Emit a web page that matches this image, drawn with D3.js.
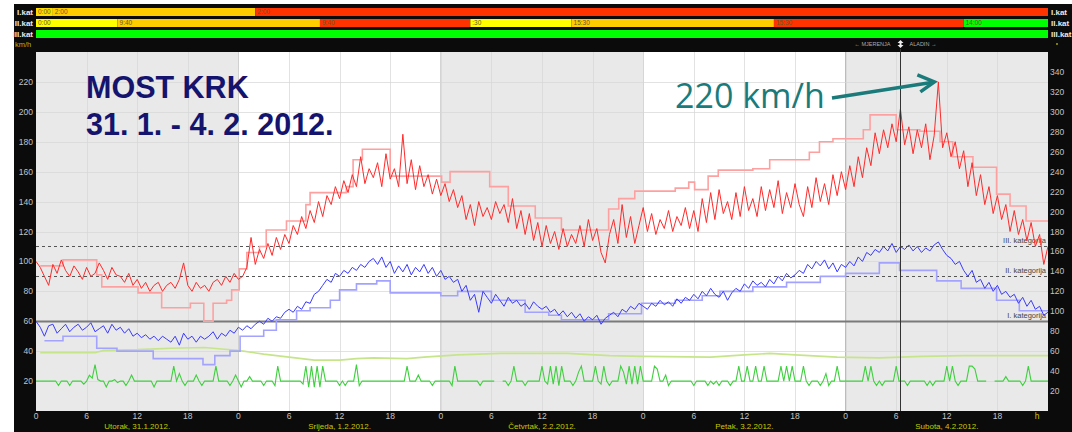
<!DOCTYPE html>
<html><head><meta charset="utf-8">
<script src="https://cdn.jsdelivr.net/npm/d3@7"></script>
<style>body{margin:0;background:#fff}svg{display:block}</style>
</head><body><svg id="c" width="1072" height="432"></svg>
<script>
// ---------- DATA ----------
const dayLabels = ["Utorak, 31.1.2012.","Srijeda, 1.2.2012.","Četvrtak, 2.2.2012.","Petak, 3.2.2012.","Subota, 4.2.2012."];
const dayStarts = [0,24,48,72,96];
const hourTickT = [0,6,12,18,24,30,36,42,48,54,60,66,72,78,84,90,96,102,108,114];
const hourTickLabels = ["0","6","12","18","0","6","12","18","0","6","12","18","0","6","12","18","0","6","12","18"];
const leftTicks = [20,40,60,80,100,120,140,160,180,200,220];
const rightTicks = [20,40,60,80,100,120,140,160,180,200,220,240,260,280,300,320,340];

// measured gusts (red), every 30 min from Tue 0:00
const gust = [
100,96,90,84,98,92,101,94,90,97,93,88,96,90,92,99,94,88,96,91,90,
86,92,84,88,82,86,80,84,86,80,84,86,82,88,99,84,80,86,82,84,
80,86,88,84,90,86,92,88,90,96,116,98,108,102,112,104,116,108,118,112,
124,118,130,122,134,126,140,130,144,138,150,142,154,146,158,150,170,152,162,156,
166,150,172,155,162,150,185,152,168,148,164,150,158,145,155,144,152,140,148,136,
144,128,138,124,140,130,136,128,140,132,138,126,142,122,134,118,132,114,126,110,
124,112,120,108,122,110,118,112,124,110,128,114,122,106,99,118,128,112,138,116,
130,112,124,136,120,132,118,128,122,134,120,130,124,136,122,134,120,142,126,146,
128,148,132,140,128,146,130,150,134,142,130,150,134,148,136,154,132,146,136,152,
138,130,150,136,156,140,152,138,158,144,160,148,164,150,170,156,176,164,186,172,
188,176,192,180,202,178,190,172,188,176,192,168,184,220,176,186,170,180,162,174,
150,166,144,158,138,150,132,144,128,138,120,134,118,128,114,126,110,118,98,110];

// measured mean wind (blue), every 30 min
const mean = [
60,56,50,57,58,52,55,58,53,56,58,54,56,59,53,55,57,52,58,54,56,
52,55,50,52,49,51,48,50,47,50,48,46,50,44,52,48,50,46,50,48,
50,53,48,52,50,54,52,56,54,57,55,58,60,58,62,60,63,62,66,68,
66,70,68,73,72,78,80,84,88,86,92,90,94,92,96,94,98,96,100,102,
98,103,96,100,92,97,93,98,91,96,93,98,92,96,90,94,88,90,86,88,
80,84,74,78,66,80,76,72,78,74,70,76,72,74,70,72,68,73,70,68,
70,66,68,64,67,63,66,62,65,60,63,61,64,58,62,64,66,63,68,66,
70,68,72,70,68,72,70,74,71,73,70,75,72,76,74,78,75,80,77,82,
78,76,80,74,79,82,80,85,82,87,84,86,83,88,85,90,87,92,89,91,
94,92,98,95,100,97,101,95,99,93,98,96,100,97,103,100,106,104,108,106,
110,107,112,106,110,108,111,107,110,106,109,107,111,113,108,104,102,98,100,94,
90,94,86,88,82,86,80,84,78,80,76,78,72,76,70,74,68,70,64,66];

// ALADIN forecast gusts (light red), step changes
const gustFcT = [0.5,3.2,7.2,7.8,12.1,14.9,18.3,19.9,21,22.6,23.2,24.1,25,26.5,27.3,29.7,32,32.5,36.8,37.6,38.7,42,48.1,49.1,53.8,56,59.2,62.3,67.9,69.1,71,75.8,77.4,78.1,79.7,80.9,85,87,91.7,92.9,94.5,98.1,98.9,102,104.8,107.2,108.7,111.1,113.9,115.5,117.4,120];
const gustFcV = [97,101,91,83,79,69,72,60,72,74,81,95,106,110,121,127,138,146,150,168,175,157,153,160,150,137,129,121,135,142,147,149,153,148,157,161,162,168,173,180,182,188,198,188,187,180,170,163,145,137,127,127];

// ALADIN forecast mean wind (light blue)
const meanFcT = [1,3.2,7.2,9.6,13.9,19.8,21.2,23,24.2,27,28.5,30.9,32.5,34.9,36,38,40.4,42,48,50,54,58,60.8,62.3,67.9,71.8,75.8,79,81.1,85,89,93,96,100,102.4,106.8,109.7,113.9,116.6,120];
const meanFcV = [47,50,42,40,35,31,37,40,50,54,61,67,69,74,81,85,87,79,77,80,74,66,64,61,65,72,74,77,80,83,86,90,92,99,94,87,82,74,67,67];

// light green series
const lgT = [0.5,7,8,12,16,20,22,24,27,30,33,36,38,40,44,46,50,55,63,68,72,80,84,87,90,95,100,105,110,120];
const lgV = [39,39,40.5,41,42,42.5,41.5,40.5,38,36,34,34,35,35.5,35,36,37.5,38.5,38.5,37,36.5,36,37.5,38.5,37.5,36,35.5,36.5,37,37];

// green series, every 20 min
const green = [
20,20,20,20,20,20,20,20,17,20,20,20,17,20,20,20,20,18,
20,24,22,31,21,20,20,16,20,20,21,19,20,20,17,20,24,20,
20,20,20,20,20,20,16,20,20,20,20,20,20,30,20,25,20,17,
20,20,20,24,20,17,20,20,20,20,30,20,20,20,20,17,20,24,
20,16,20,20,23,20,20,20,20,17,20,20,20,17,30,20,20,20,
20,20,20,20,20,18,30,16,30,16,30,16,30,20,20,20,20,20,
17,20,17,20,20,20,31,17,20,20,20,20,20,20,20,20,20,20,
20,20,20,20,20,20,30,20,20,20,24,20,20,20,20,17,20,20,
20,20,20,20,17,30,20,20,20,20,20,20,20,20,17,20,20,20,
20,20,null,null,20,20,17,20,30,20,20,20,17,20,20,20,20,20,
30,20,18,30,18,30,17,30,20,20,20,17,20,26,30,20,20,20,
20,30,20,18,30,20,17,20,20,20,30,26,18,30,18,30,18,30,
20,20,20,20,30,28,20,20,24,17,20,20,20,20,20,20,20,20,
17,20,20,20,20,17,20,18,20,17,20,20,20,17,20,20,30,20,
20,30,20,20,30,20,20,30,20,20,20,20,20,30,20,30,20,30,
20,20,20,30,20,17,20,20,20,17,20,25,17,20,20,30,20,20,
20,20,20,20,20,20,20,30,20,30,20,17,20,17,20,20,20,20,
30,20,20,20,17,20,20,20,20,20,20,17,20,17,20,20,20,20,
30,20,30,20,17,20,20,20,30,30,28,20,20,20,20,null,null,20,
20,20,20,23,20,20,20,20,20,17,20,30,20,20,20,20,20,20,
20];

// category thresholds
const catValues = [110,90,60];
const catLabels = ["III. kategorija","II. kategorija","I. kategorija"];

// top status bars: [start hour, end hour, level, label]; level 0 green,1 yellow,2 orange,3 red,4 light yellow
const barRowLabels = ["I.kat","II.kat","III.kat"];
const barRow1 = [[0,2,4,"0:00"],[2,26,2,"2:00"],[26,120,3,"2:00"]];
const barRow2 = [[0,9.67,1,"0:00"],[9.67,33.67,2,"9:40"],[33.67,51.5,3,"9:40"],[51.5,63.5,1,":30"],[63.5,87.5,2,"15:30"],[87.5,110,3,"15:30"],[110,120,0,"14:00"]];
const barRow3 = [[0,120,0,""]];

const nowT = 102.4;
const peakT = 107, peakV = 220;

// ---------- DRAW ----------
const svg = d3.select("#c");
const x = d3.scaleLinear().domain([0,120]).range([36,1048]);
const yL = d3.scaleLinear().domain([0,240]).range([411,52]);
const yR = d3.scaleLinear().domain([0,360]).range([411,52]);
const levelColor = ["#00ff00","#ffff00","#ffcc00","#ff3300","#ffdd00"];
const font = "'Liberation Sans Narrow','Liberation Sans',Arial,sans-serif";

svg.append("rect").attr("x",14).attr("y",4).attr("width",1058).attr("height",428).attr("fill","#0b0b0b");

// status bars
[barRow1,barRow2,barRow3].forEach((row,ri)=>{
  const yTop = 8 + ri*11;
  const g = svg.append("g");
  g.selectAll("rect").data(row).join("rect")
    .attr("x",d=>x(d[0])).attr("y",yTop).attr("width",d=>x(d[1])-x(d[0])).attr("height",8)
    .attr("fill",d=>levelColor[d[2]]);
  g.selectAll("text").data(row).join("text")
    .attr("x",d=>x(d[0])+2).attr("y",yTop+6.3).text(d=>d[3])
    .attr("font-family",font).attr("font-size",6.5).attr("fill","#6a5a20");
  svg.append("text").attr("x",33).attr("y",yTop+7).attr("text-anchor","end").text(barRowLabels[ri])
    .attr("font-family","'Liberation Sans',Arial").attr("font-size",8).attr("font-weight","bold").attr("fill","#e8e8e8");
  svg.append("text").attr("x",1051).attr("y",yTop+7).text(barRowLabels[ri])
    .attr("font-family","'Liberation Sans',Arial").attr("font-size",8).attr("font-weight","bold").attr("fill","#e8e8e8");
});
svg.append("text").attr("x",15).attr("y",47).text("km/h").attr("font-family",font).attr("font-size",7.5).attr("fill","#b5b500");
svg.append("circle").attr("cx",1057).attr("cy",44).attr("r",0.9).attr("fill","#b5b500");

// day backgrounds
svg.append("g").selectAll("rect").data(dayStarts).join("rect")
  .attr("x",d=>x(d)).attr("y",yL(240)).attr("width",d=>x(d+24)-x(d)).attr("height",yL(0)-yL(240))
  .attr("fill",(d,i)=>i%2? "#ffffff":"#e9e9e9");

// grid
const grid = svg.append("g").attr("stroke","#d6d6d6").attr("stroke-width",1);
grid.selectAll("line.v").data(hourTickT.slice(1)).join("line").attr("class","v")
  .attr("x1",d=>Math.round(x(d))+0.5).attr("x2",d=>Math.round(x(d))+0.5).attr("y1",yL(240)).attr("y2",yL(0)).attr("stroke-opacity",0.7);
grid.selectAll("line.h").data(leftTicks).join("line").attr("class","h")
  .attr("x1",x(0)).attr("x2",x(120)).attr("y1",d=>Math.round(yL(d))+0.5).attr("y2",d=>Math.round(yL(d))+0.5).attr("stroke-opacity",0.7);

// category lines
svg.append("g").selectAll("line").data(catValues).join("line")
  .attr("x1",x(0)).attr("x2",x(120)).attr("y1",d=>Math.round(yL(d))+0.5).attr("y2",d=>Math.round(yL(d))+0.5)
  .attr("stroke",(d,i)=>i==2?"#7a7a7a":"#555").attr("stroke-width",(d,i)=>i==2?2:1)
  .attr("stroke-dasharray",(d,i)=>i==2?null:"3,3");
svg.append("g").selectAll("text").data(catValues).join("text")
  .attr("x",1046).attr("y",d=>yL(d)-3).attr("text-anchor","end").text((d,i)=>catLabels[i])
  .attr("font-family",font).attr("font-size",7.5).attr("fill","#444");

// series
const lineXY = d3.line().defined(d=>d[1]!=null).x(d=>x(d[0])).y(d=>yL(d[1]));
const stepXY = d3.line().curve(d3.curveStepAfter).x(d=>x(d[0])).y(d=>yL(d[1]));
svg.append("clipPath").attr("id","pc").append("rect").attr("x",x(0)).attr("y",yL(240)).attr("width",x(120)-x(0)).attr("height",yL(0)-yL(240));
const series = svg.append("g").attr("clip-path","url(#pc)").attr("fill","none");
series.append("path").attr("d",lineXY(lgT.map((t,i)=>[t,lgV[i]]))).attr("stroke","#c6e58a").attr("stroke-width",1.6);
series.append("path").attr("d",lineXY(green.map((v,i)=>[i/3,v]))).attr("stroke","#3fcf3f").attr("stroke-width",1.1);
series.append("path").attr("d",stepXY(meanFcT.map((t,i)=>[t,meanFcV[i]]))).attr("stroke","#a3a3ff").attr("stroke-width",1.6);
series.append("path").attr("d",stepXY(gustFcT.map((t,i)=>[t,gustFcV[i]]))).attr("stroke","#ffa0a0").attr("stroke-width",1.6);
series.append("path").attr("d",lineXY(mean.map((v,i)=>[i/2,v]))).attr("stroke","#3a3aff").attr("stroke-width",1);
series.append("path").attr("d",lineXY(gust.map((v,i)=>[i/2,v]))).attr("stroke","#ff2a2a").attr("stroke-width",1);

// now line
const nx = Math.round(x(nowT))+0.5;
svg.append("line").attr("x1",nx).attr("x2",nx).attr("y1",49).attr("y2",yL(0))
  .attr("stroke","#333").attr("stroke-width",1);
svg.append("path").attr("d",`M${nx-3},43 L${nx},40 L${nx+3},43 Z M${nx-3},45 L${nx},48 L${nx+3},45 Z M${nx-1},43 h2 v2 h-2 Z`).attr("fill","#eee");
svg.append("text").attr("x",nx-10).attr("y",46).attr("text-anchor","end").text("\u2190 MJERENJA").attr("font-family",font).attr("font-size",5.5).attr("fill","#aaa");
svg.append("text").attr("x",nx+9).attr("y",46).text("ALADIN \u2192").attr("font-family",font).attr("font-size",5.5).attr("fill","#aaa");

// axes labels
svg.append("g").selectAll("text").data(leftTicks).join("text")
  .attr("x",33).attr("y",d=>yL(d)+3).attr("text-anchor","end").text(d=>d)
  .attr("font-family",font).attr("font-size",8.5).attr("fill","#c4c4c4");
svg.append("g").selectAll("text").data(rightTicks).join("text")
  .attr("x",1050).attr("y",d=>yR(d)+3).text(d=>d)
  .attr("font-family",font).attr("font-size",8.5).attr("fill","#c4c4c4");
svg.append("g").selectAll("text").data(hourTickT).join("text")
  .attr("x",d=>x(d)).attr("y",419).attr("text-anchor","middle").text((d,i)=>hourTickLabels[i])
  .attr("font-family",font).attr("font-size",8.5).attr("fill","#c4c4c4");
svg.append("text").attr("x",x(118.7)).attr("y",419).attr("text-anchor","middle").text("h")
  .attr("font-family",font).attr("font-size",8.5).attr("fill","#c9c900");
svg.append("g").selectAll("text").data(dayStarts).join("text")
  .attr("x",d=>x(d+12)).attr("y",429).attr("text-anchor","middle").text((d,i)=>dayLabels[i])
  .attr("font-family",font).attr("font-size",8).attr("fill","#c9c900");

// title
const title = svg.append("g").attr("font-family","'Liberation Sans',Arial,sans-serif").attr("font-weight","bold").attr("font-size",30.5).attr("fill","#14146e");
title.append("text").attr("x",86).attr("y",98).text("MOST KRK");
title.append("text").attr("x",86).attr("y",135).text("31. 1. - 4. 2. 2012.");

// annotation
svg.append("text").attr("x",675).attr("y",108).text("220 km/h").attr("font-family","'Open Sans',sans-serif").attr("font-size",34).attr("fill","#1b7b7b");
const tipX = x(peakT)-4, tipY = yL(peakV);
svg.append("line").attr("x1",832).attr("y1",98).attr("x2",tipX-3).attr("y2",tipY+0.5).attr("stroke","#1b7b7b").attr("stroke-width",3.5);
svg.append("path").attr("d",`M${tipX-17},${tipY-7} L${tipX},${tipY} L${tipX-14},${tipY+10}`).attr("fill","none").attr("stroke","#1b7b7b").attr("stroke-width",3.5).attr("stroke-linejoin","miter");
</script></body></html>
